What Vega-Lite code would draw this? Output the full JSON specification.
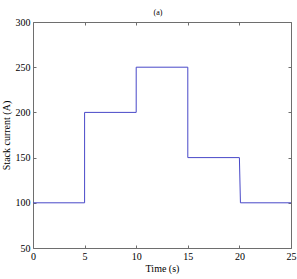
{
  "$schema": "https://vega.github.io/schema/vega-lite/v6.json",
  "width": 258,
  "height": 226,
  "autosize": "none",
  "padding": {"left": 33, "top": 22, "right": 6, "bottom": 31},
  "background": "white",
  "title": {"text": "(a)", "font": "Liberation Serif", "fontSize": 8, "fontWeight": "normal", "offset": 5, "dx": -4, "dy": 5, "color": "#000"},
  "config": {
    "view": {"stroke": null},
    "axis": {
      "labelFont": "Liberation Serif",
      "labelFontSize": 10,
      "labelColor": "#000",
      "titleFont": "Liberation Serif",
      "titleFontSize": 10,
      "titleFontWeight": "normal",
      "titleColor": "#000",
      "domainColor": "#6e6e6e",
      "tickColor": "#6e6e6e",
      "grid": false,
      "tickSize": -3,
      "labelPadding": 6
    }
  },
  "data": {"values": [
    {"t": 0, "i": 100}, {"t": 5, "i": 100}, {"t": 5, "i": 200}, {"t": 10, "i": 200},
    {"t": 10, "i": 250}, {"t": 15, "i": 250}, {"t": 15, "i": 150}, {"t": 20, "i": 150},
    {"t": 20.1, "i": 100}, {"t": 25, "i": 100}
  ]},
  "layer": [
    {
      "mark": {"type": "line", "color": "#4848c8", "strokeWidth": 1},
      "encoding": {
        "x": {"field": "t", "type": "quantitative", "scale": {"domain": [0, 25], "nice": false},
              "axis": {"title": "Time (s)", "values": [0,5,10,15,20,25], "titlePadding": 2, "labelFlush": false}},
        "y": {"field": "i", "type": "quantitative", "scale": {"domain": [50, 300], "nice": false, "zero": false},
              "axis": {"title": "Stack current (A)", "values": [50,100,150,200,250,300], "titlePadding": 4}},
        "order": {"field": "t"}
      }
    },
    {
      "mark": {"type": "line", "opacity": 0},
      "encoding": {
        "x": {"field": "t", "type": "quantitative", "scale": {"domain": [0, 25], "nice": false},
              "axis": {"orient": "top", "title": null, "labels": false, "values": [0,5,10,15,20,25]}},
        "y": {"field": "i", "type": "quantitative", "scale": {"domain": [50, 300], "nice": false, "zero": false},
              "axis": {"orient": "right", "title": null, "labels": false, "values": [50,100,150,200,250,300]}}
      }
    }
  ],
  "resolve": {"axis": {"x": "independent", "y": "independent"}}
}
